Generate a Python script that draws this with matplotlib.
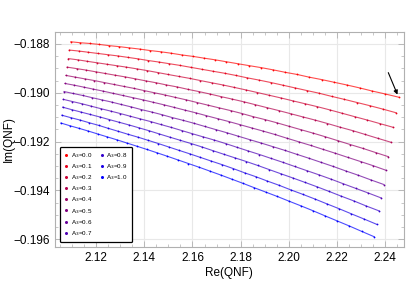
import matplotlib
matplotlib.use("Agg")
import matplotlib.pyplot as plt
from matplotlib.lines import Line2D
from matplotlib.ticker import MultipleLocator, FuncFormatter

plt.rcParams['font.family'] = ['Liberation Sans', 'DejaVu Sans']

a3 = [0.0, 0.1, 0.2, 0.3, 0.4, 0.5, 0.6, 0.7, 0.8, 0.9, 1.0]

# Re / Im of the QNF, one pair of lists per A3 value
re_0 = [2.1095,2.1134,2.1174,2.1214,2.1255,2.1296,2.1338,2.1381,2.1424,2.1468,2.1512,2.1556,2.1602,2.1647,2.1694,2.1741,2.1788,2.1836,2.1885,2.1934,2.1984,2.2034,2.2084,2.2136,2.2188,2.2240,2.2293,2.2346,2.2400,2.2455]
im_0 = [-0.18791,-0.18795,-0.18798,-0.18802,-0.18807,-0.18811,-0.18816,-0.18821,-0.18827,-0.18832,-0.18838,-0.18845,-0.18851,-0.18858,-0.18865,-0.18873,-0.18881,-0.18889,-0.18897,-0.18906,-0.18916,-0.18925,-0.18936,-0.18946,-0.18957,-0.18968,-0.18980,-0.18993,-0.19005,-0.19018]
re_1 = [2.1089,2.1128,2.1168,2.1208,2.1249,2.1290,2.1332,2.1374,2.1417,2.1460,2.1504,2.1549,2.1594,2.1640,2.1686,2.1733,2.1780,2.1828,2.1876,2.1925,2.1975,2.2025,2.2075,2.2126,2.2178,2.2230,2.2283,2.2336,2.2390,2.2445]
im_1 = [-0.18825,-0.18829,-0.18834,-0.18839,-0.18844,-0.18849,-0.18855,-0.18861,-0.18868,-0.18874,-0.18881,-0.18888,-0.18896,-0.18904,-0.18912,-0.18920,-0.18929,-0.18939,-0.18948,-0.18958,-0.18969,-0.18980,-0.18991,-0.19002,-0.19015,-0.19027,-0.19040,-0.19053,-0.19067,-0.19082]
re_2 = [2.1085,2.1124,2.1163,2.1203,2.1244,2.1285,2.1326,2.1369,2.1411,2.1455,2.1498,2.1543,2.1588,2.1633,2.1679,2.1726,2.1773,2.1820,2.1869,2.1917,2.1966,2.2016,2.2067,2.2118,2.2169,2.2221,2.2273,2.2326,2.2380,2.2434]
im_2 = [-0.18860,-0.18865,-0.18871,-0.18877,-0.18883,-0.18889,-0.18895,-0.18902,-0.18909,-0.18917,-0.18925,-0.18933,-0.18941,-0.18950,-0.18959,-0.18968,-0.18978,-0.18988,-0.18999,-0.19010,-0.19021,-0.19033,-0.19045,-0.19057,-0.19070,-0.19084,-0.19098,-0.19112,-0.19127,-0.19142]
re_3 = [2.1080,2.1119,2.1158,2.1198,2.1238,2.1279,2.1321,2.1363,2.1405,2.1449,2.1492,2.1536,2.1581,2.1626,2.1672,2.1719,2.1765,2.1813,2.1861,2.1909,2.1958,2.2008,2.2058,2.2109,2.2160,2.2212,2.2264,2.2317,2.2370,2.2424]
im_3 = [-0.18895,-0.18901,-0.18907,-0.18914,-0.18921,-0.18928,-0.18935,-0.18943,-0.18951,-0.18959,-0.18968,-0.18976,-0.18986,-0.18995,-0.19005,-0.19016,-0.19026,-0.19037,-0.19049,-0.19061,-0.19073,-0.19086,-0.19099,-0.19112,-0.19126,-0.19141,-0.19155,-0.19171,-0.19187,-0.19203]
re_4 = [2.1075,2.1114,2.1153,2.1193,2.1233,2.1274,2.1315,2.1357,2.1399,2.1442,2.1485,2.1529,2.1574,2.1619,2.1665,2.1711,2.1758,2.1805,2.1852,2.1901,2.1950,2.1999,2.2049,2.2099,2.2150,2.2202,2.2254,2.2307,2.2360,2.2413]
im_4 = [-0.18929,-0.18936,-0.18943,-0.18950,-0.18958,-0.18966,-0.18974,-0.18982,-0.18991,-0.19000,-0.19009,-0.19019,-0.19029,-0.19040,-0.19051,-0.19062,-0.19073,-0.19085,-0.19098,-0.19110,-0.19123,-0.19137,-0.19151,-0.19165,-0.19180,-0.19196,-0.19212,-0.19228,-0.19245,-0.19262]
re_5 = [2.1071,2.1110,2.1149,2.1188,2.1228,2.1269,2.1310,2.1352,2.1394,2.1437,2.1480,2.1524,2.1568,2.1613,2.1658,2.1704,2.1751,2.1798,2.1845,2.1893,2.1942,2.1991,2.2041,2.2091,2.2142,2.2193,2.2245,2.2298,2.2350,2.2404]
im_5 = [-0.18962,-0.18969,-0.18977,-0.18985,-0.18993,-0.19002,-0.19011,-0.19020,-0.19029,-0.19039,-0.19049,-0.19060,-0.19071,-0.19082,-0.19094,-0.19106,-0.19118,-0.19131,-0.19144,-0.19157,-0.19171,-0.19186,-0.19201,-0.19216,-0.19232,-0.19248,-0.19265,-0.19282,-0.19299,-0.19318]
re_6 = [2.1067,2.1105,2.1144,2.1183,2.1223,2.1264,2.1304,2.1346,2.1388,2.1431,2.1474,2.1517,2.1561,2.1606,2.1651,2.1697,2.1743,2.1790,2.1837,2.1885,2.1934,2.1983,2.2032,2.2082,2.2133,2.2184,2.2235,2.2288,2.2340,2.2394]
im_6 = [-0.18995,-0.19003,-0.19011,-0.19020,-0.19029,-0.19038,-0.19048,-0.19058,-0.19069,-0.19079,-0.19090,-0.19102,-0.19113,-0.19125,-0.19138,-0.19151,-0.19164,-0.19178,-0.19192,-0.19206,-0.19221,-0.19236,-0.19252,-0.19268,-0.19285,-0.19302,-0.19320,-0.19338,-0.19357,-0.19376]
re_7 = [2.1064,2.1102,2.1141,2.1180,2.1219,2.1260,2.1300,2.1341,2.1383,2.1426,2.1468,2.1512,2.1556,2.1600,2.1645,2.1691,2.1737,2.1783,2.1830,2.1878,2.1926,2.1975,2.2024,2.2074,2.2124,2.2175,2.2226,2.2278,2.2330,2.2383]
im_7 = [-0.19027,-0.19036,-0.19045,-0.19055,-0.19065,-0.19075,-0.19085,-0.19096,-0.19107,-0.19118,-0.19130,-0.19142,-0.19155,-0.19168,-0.19181,-0.19194,-0.19208,-0.19223,-0.19238,-0.19253,-0.19269,-0.19285,-0.19302,-0.19319,-0.19336,-0.19354,-0.19373,-0.19392,-0.19411,-0.19431]
re_8 = [2.1061,2.1098,2.1137,2.1176,2.1215,2.1255,2.1296,2.1337,2.1379,2.1421,2.1463,2.1506,2.1550,2.1594,2.1639,2.1684,2.1730,2.1777,2.1824,2.1871,2.1919,2.1967,2.2016,2.2066,2.2116,2.2166,2.2218,2.2269,2.2321,2.2374]
im_8 = [-0.19059,-0.19069,-0.19079,-0.19089,-0.19099,-0.19110,-0.19121,-0.19132,-0.19144,-0.19156,-0.19169,-0.19182,-0.19195,-0.19208,-0.19222,-0.19237,-0.19252,-0.19267,-0.19282,-0.19298,-0.19315,-0.19332,-0.19349,-0.19367,-0.19385,-0.19404,-0.19424,-0.19443,-0.19464,-0.19484]
re_9 = [2.1058,2.1095,2.1134,2.1172,2.1212,2.1251,2.1292,2.1332,2.1374,2.1416,2.1458,2.1501,2.1544,2.1588,2.1633,2.1678,2.1724,2.1770,2.1816,2.1863,2.1911,2.1959,2.2008,2.2057,2.2107,2.2157,2.2208,2.2259,2.2311,2.2364]
im_9 = [-0.19092,-0.19102,-0.19112,-0.19123,-0.19134,-0.19146,-0.19158,-0.19170,-0.19182,-0.19195,-0.19208,-0.19222,-0.19236,-0.19250,-0.19265,-0.19280,-0.19295,-0.19311,-0.19328,-0.19344,-0.19362,-0.19379,-0.19398,-0.19416,-0.19435,-0.19455,-0.19475,-0.19496,-0.19517,-0.19539]
re_10 = [2.1054,2.1091,2.1130,2.1168,2.1207,2.1247,2.1287,2.1328,2.1369,2.1410,2.1453,2.1495,2.1539,2.1583,2.1627,2.1672,2.1717,2.1763,2.1809,2.1856,2.1904,2.1952,2.2000,2.2049,2.2099,2.2149,2.2200,2.2251,2.2302,2.2354]
im_10 = [-0.19124,-0.19135,-0.19146,-0.19157,-0.19169,-0.19181,-0.19193,-0.19206,-0.19219,-0.19232,-0.19246,-0.19260,-0.19275,-0.19290,-0.19305,-0.19321,-0.19337,-0.19354,-0.19371,-0.19389,-0.19407,-0.19425,-0.19444,-0.19463,-0.19483,-0.19504,-0.19525,-0.19546,-0.19568,-0.19590]

re_all = [re_0, re_1, re_2, re_3, re_4, re_5, re_6, re_7, re_8, re_9, re_10]
im_all = [im_0, im_1, im_2, im_3, im_4, im_5, im_6, im_7, im_8, im_9, im_10]

fig = plt.figure(figsize=(4.09, 3.07), dpi=100)
ax = fig.add_axes([54.5/409, 1-247/307, (404-54.5)/409, (247-32)/307])

handles = []
for t, X, Y in zip(a3, re_all, im_all):
    col = (1 - t, 0, t)   # red -> blue blend
    ax.plot(X, Y, '-', color=col, lw=0.8, alpha=0.7)
    ax.plot(X, Y, 'o', color=col, ms=1.3, mew=0)
    handles.append(Line2D([], [], ls='none', marker='o', color=col, ms=2.2, mew=0))

# pad second column so it holds 3 entries (8 + 3 layout)
blank = Line2D([], [], ls='none')
labels = [f'A$_3$={t:.1f}' for t in a3] + [''] * 5
leg = ax.legend(handles + [blank] * 5, labels, ncol=2, loc='lower left',
                bbox_to_anchor=(0.0157, 0.023), borderaxespad=0, fontsize=4.5,
                handlelength=0.6, handletextpad=0.4, columnspacing=1.3,
                labelspacing=0.35, frameon=True, fancybox=True,
                edgecolor='black', framealpha=1, borderpad=0.7)
leg.get_frame().set_linewidth(0.9)

ax.annotate('', xy=(re_0[-1], im_0[-1]), xytext=(2.2408, -0.18907),
            arrowprops=dict(arrowstyle='-|>', color='black', lw=0.8, mutation_scale=6))

ax.set_xlim(2.10274, 2.24776)
ax.set_ylim(-0.19632, -0.18751)
ax.xaxis.set_major_locator(MultipleLocator(0.02))
ax.xaxis.set_minor_locator(MultipleLocator(0.005))
ax.yaxis.set_major_locator(MultipleLocator(0.002))
ax.yaxis.set_minor_locator(MultipleLocator(0.0005))
ax.xaxis.set_major_formatter(FuncFormatter(lambda v, p: f'{v:.2f}'))
ax.yaxis.set_major_formatter(FuncFormatter(lambda v, p: f'{v:.3f}'.replace('-', '\u2212')))
ax.tick_params(which='both', direction='in', top=True, right=True, color='#b0b0b0', labelsize=8.5)
ax.tick_params(which='major', length=4, width=0.6)
ax.tick_params(which='minor', length=2, width=0.5)
ax.grid(True, which='major', color='#e8e8e8', lw=0.8)
for s in ax.spines.values():
    s.set_color('#b0b0b0')
    s.set_linewidth(0.8)
ax.set_xlabel('Re(QNF)', fontsize=8.5, labelpad=2)
ax.set_ylabel('Im(QNF)', fontsize=8.5)
ax.yaxis.set_label_coords(-0.113, 0.5)

fig.savefig('out.png', dpi=100)
